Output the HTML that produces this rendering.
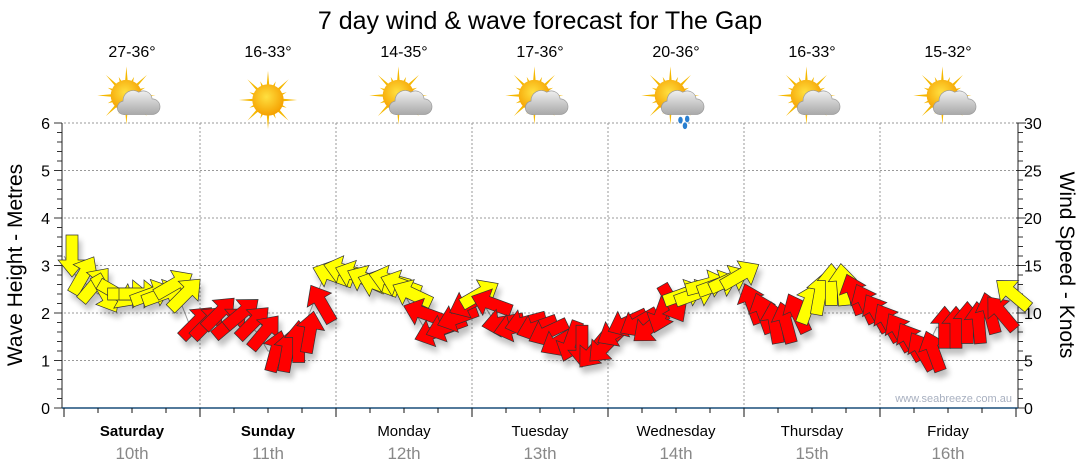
<!DOCTYPE html>
<html><head><meta charset="utf-8"><style>
body{margin:0;background:#fff;}
svg{display:block;font-family:"Liberation Sans",Verdana,sans-serif;}
</style></head><body>
<svg id="c" width="1080" height="475" viewBox="0 0 1080 475">
<defs>
<filter id="sh" x="-50%" y="-50%" width="200%" height="200%"><feGaussianBlur in="SourceAlpha" stdDeviation="3"/><feOffset dx="3" dy="6"/><feComponentTransfer><feFuncA type="linear" slope="0.25"/></feComponentTransfer><feMerge><feMergeNode/><feMergeNode in="SourceGraphic"/></feMerge></filter>
<radialGradient id="sun" cx="45%" cy="40%" r="60%"><stop offset="0" stop-color="#ffe040"/><stop offset="1" stop-color="#f5a000"/></radialGradient>
<linearGradient id="cl" x1="0" y1="0" x2="0" y2="1"><stop offset="0" stop-color="#f0f0f0"/><stop offset="1" stop-color="#a8a8a8"/></linearGradient>
</defs>
<text x="540" y="29" text-anchor="middle" font-size="25">7 day wind &amp; wave forecast for The Gap</text>
<g id="grid"></g><g id="axes"></g><g id="icons"></g><g id="arrows" filter="url(#sh)"></g>
<text x="1012" y="402" text-anchor="end" font-size="11" fill="#a8b0c0">www.seabreeze.com.au</text>
<text transform="translate(22,265) rotate(-90)" text-anchor="middle" font-size="21">Wave Height - Metres</text>
<text transform="translate(1060,265) rotate(90)" text-anchor="middle" font-size="21">Wind Speed - Knots</text>
</svg>
<script>
const days=["Saturday","Sunday","Monday","Tuesday","Wednesday","Thursday","Friday"];
const dates=["10th","11th","12th","13th","14th","15th","16th"];
const bold=[true,true,false,false,false,false,false];
const temps=["27-36°","16-33°","14-35°","17-36°","20-36°","16-33°","15-32°"];
const iconType=["partly","sun","partly","partly","rain","partly","partly"];
const waveTicks=[0,1,2,3,4,5,6];
const windTicks=[0,5,10,15,20,25,30];
const hours=[0,2,4,6,8,10,12,14,16,18,20,22];
const windSpeed=[
16,14,13,12,12,12,12,12,12,13,12,9,
9,10,9,10,9,8,6,6,7,8,11,14,
14.5,14,13.5,13,13.5,13,12,10,8,8.5,9.5,11,
12,11,9,8.5,9,8.5,8,7,7,6.5,6,6.5,
8,9,9,8.5,10,11,12,12,13,13,13.5,14,
11,10,9,9,10,11,12,13,13,12,11,10,
9,8,7,6,6,8.5,8.5,9,9,10,10,12];
const windDir=[
180,30,40,150,120,90,90,70,70,60,45,45,
45,45,50,50,45,40,15,10,0,10,330,290,
285,290,295,290,285,290,295,290,250,250,250,245,
60,290,260,255,255,250,245,240,200,180,220,225,
240,245,240,230,200,150,70,70,75,70,65,60,
340,340,350,345,335,20,10,0,355,340,335,330,
330,330,330,330,340,0,0,0,355,345,320,310];
const windColor=[
"Y","Y","Y","Y","Y","Y","Y","Y","Y","Y","Y","R",
"R","R","R","R","R","R","R","R","R","R","R","Y",
"Y","Y","Y","Y","Y","Y","Y","R","R","R","R","R",
"Y","R","R","R","R","R","R","R","R","R","R","R",
"R","R","R","R","R","R","Y","Y","Y","Y","Y","Y",
"R","R","R","R","R","Y","Y","Y","Y","R","R","R",
"R","R","R","R","R","R","R","R","R","R","R","Y"];
const NS="http://www.w3.org/2000/svg";
const X0=64,DW=136,YT=123,YB=408;
const xT=h=>X0+h*DW/24;
const yW=v=>YB-(YB-YT)*v/6;
const yK=k=>YB-(YB-YT)*k/30;
function mk(tag,attrs,parent,txt){const e=document.createElementNS(NS,tag);for(const k in attrs)e.setAttribute(k,attrs[k]);if(txt!==undefined)e.textContent=txt;parent.appendChild(e);return e;}
const grid=document.getElementById('grid'),axes=document.getElementById('axes'),icons=document.getElementById('icons'),arrows=document.getElementById('arrows');
waveTicks.forEach(v=>{if(v>0){const l=mk('line',{x1:X0,x2:1018,y1:yW(v),y2:yW(v),stroke:'#999','stroke-dasharray':'2,2','stroke-width':1},grid);

}
const t=mk('text',{x:50,y:yW(v)+6,'text-anchor':'end','font-size':16},axes,String(v));

});
windTicks.forEach(k=>{const t=mk('text',{x:1024,y:yK(k)+6,'font-size':16},axes,String(k));

});
for(let i=0;i<=30;i++){mk('line',{x1:i%5?1018:1016,x2:i%5?1023:1026,y1:yK(i),y2:yK(i),stroke:'#333'},axes);mk('line',{x1:i%5?57:54,x2:62,y1:YB-(YB-YT)*i/30,y2:YB-(YB-YT)*i/30,stroke:'#333'},axes);}
mk('line',{x1:62,x2:62,y1:YT,y2:YB,stroke:'#222'},axes);
mk('line',{x1:1018,x2:1018,y1:YT,y2:YB,stroke:'#222'},axes);
mk('line',{x1:62,x2:1018,y1:YB,y2:YB,stroke:'#1a4f7a','stroke-width':1.5},axes);
for(let h=0;h<=168;h+=6){const x=xT(h);mk('line',{x1:x,x2:x,y1:YB,y2:YB+(h%24?5:9),stroke:'#111'},axes);
if(h%24===0&&h>0&&h<168){const g=mk('line',{x1:x,x2:x,y1:YT,y2:YB,stroke:'#999','stroke-dasharray':'2,2'},grid);

}}
days.forEach((d,i)=>{const cx=xT(i*24+12);
const a=mk('text',{x:cx,y:436,'text-anchor':'middle','font-size':15,'font-weight':bold[i]?'bold':'normal'},axes,d);


const b=mk('text',{x:cx,y:459,'text-anchor':'middle','font-size':17,fill:'#888'},axes,dates[i]);


const t=mk('text',{x:cx,y:57,'text-anchor':'middle','font-size':16},icons,temps[i]);


const g=mk('g',{transform:`translate(${cx},100) scale(1.12)`},icons);


const sx=iconType[i]==='sun'?0:-5,sy=iconType[i]==='sun'?0:-4;
for(let r=0;r<16;r++){const an=r*Math.PI/8,L=r%2?18:26;mk('polygon',{points:`${sx+Math.cos(an-0.12)*11},${sy+Math.sin(an-0.12)*11} ${sx+Math.cos(an)*L},${sy+Math.sin(an)*L} ${sx+Math.cos(an+0.12)*11},${sy+Math.sin(an+0.12)*11}`,fill:'#f5b800'},g);}
mk('circle',{cx:sx,cy:sy,r:14,fill:'url(#sun)'},g);
if(iconType[i]!=='sun'){mk('path',{d:'M-6,13 h24 a7,7 0 0 0 0,-14 a8,8 0 0 0 -12,-6 a9,9 0 0 0 -14,8 a6,6 0 0 0 2,12z',fill:'url(#cl)',stroke:'#999','stroke-width':0.6},g);}
if(iconType[i]==='rain'){[[4,18],[10,17],[8,23]].forEach(p=>mk('ellipse',{cx:p[0],cy:p[1],rx:2,ry:3,fill:'#2a7fd0'},g));}
});
let pts=[];windSpeed.forEach((s,i)=>{const d=Math.floor(i/12),h=d*24+hours[i%12];pts.push(xT(h)+','+yK(s));});
mk('polyline',{points:pts.join(' '),fill:'none',stroke:'#999','stroke-width':1},grid);
windSpeed.forEach((s,i)=>{const d=Math.floor(i/12),h=d*24+hours[i%12];const x=xT(h)+8,y=yK(s);
const p=mk('polygon',{points:'0,-21 14,-4 6,-4 6,21 -6,21 -6,-4 -14,-4',transform:`translate(${x},${y}) rotate(${windDir[i]})`,fill:windColor[i]==='Y'?'#ffff00':'#ff0000',stroke:'#333','stroke-width':0.7},arrows);

});
</script>
</body></html>
